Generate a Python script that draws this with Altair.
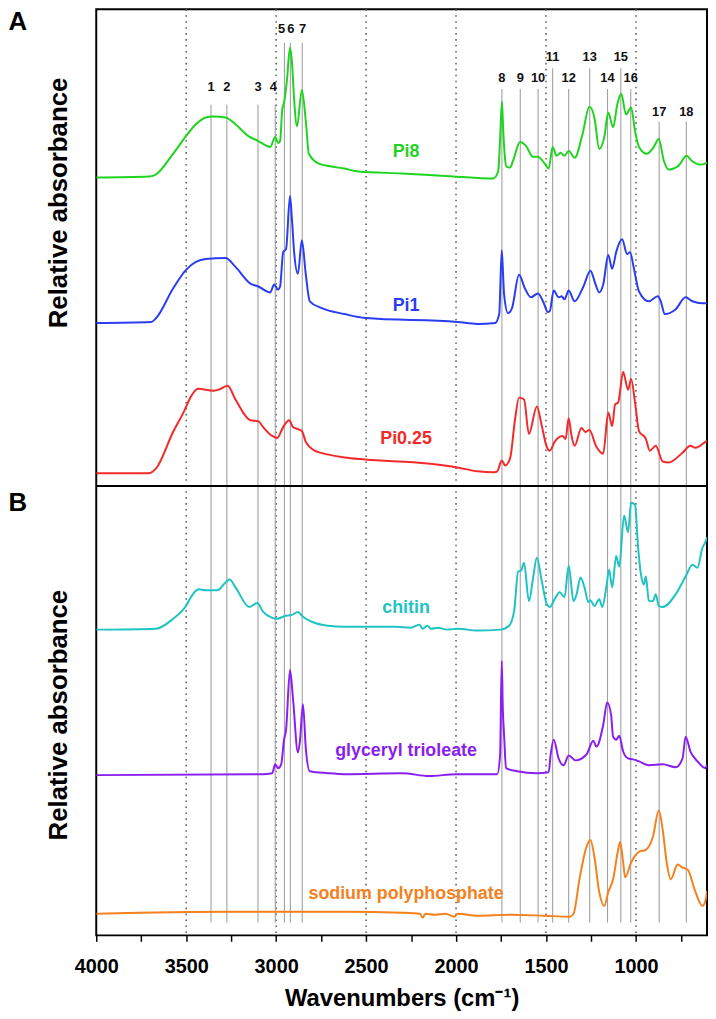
import altair as alt
import pandas as pd

FONT = "Liberation Sans"
W, H = 616, 934
X_DOMAIN = [4000, 605]
Y_DOMAIN = [0, 9.42]

series_names = ["Pi8", "Pi1", "Pi0.25", "chitin", "glyceryl trioleate", "sodium polyphosphate"]
series_colors = ["#1fd41f", "#2a3df2", "#f22a2a", "#1ec3c3", "#8a1ef0", "#f5801e"]

pi8_wn = [4000, 3705, 3678, 3573, 3501, 3446, 3391, 3353, 3281, 3226, 3154, 3099, 3033, 3005, 2989, 2978, 2966, 2955, 2940, 2923, 2912, 2900, 2884, 2857, 2835, 2818, 2763, 2691, 2620, 2543, 2300, 2014, 1793, 1766, 1755, 1745, 1738, 1730, 1720, 1700, 1683, 1644, 1611, 1573, 1545, 1507, 1485, 1463, 1441, 1419, 1397, 1374, 1341, 1297, 1259, 1231, 1204, 1176, 1154, 1127, 1104, 1082, 1055, 1027, 1005, 983, 939, 901, 873, 845, 818, 763, 719, 691, 636, 605]
pi8_abs = [7.71, 7.72, 7.73, 7.95, 8.13, 8.25, 8.32, 8.33, 8.32, 8.25, 8.13, 8.08, 8.02, 8.12, 8.06, 8.08, 8.40, 8.48, 8.70, 9.03, 8.88, 8.50, 8.23, 8.60, 8.28, 7.95, 7.85, 7.82, 7.80, 7.77, 7.75, 7.72, 7.70, 7.77, 8.10, 8.48, 8.20, 7.95, 7.82, 7.81, 7.88, 8.07, 8.03, 7.92, 7.92, 7.85, 7.80, 8.02, 7.93, 7.96, 7.93, 7.98, 7.91, 8.15, 8.43, 8.32, 8.00, 8.12, 8.37, 8.22, 8.45, 8.56, 8.35, 8.42, 8.18, 8.02, 7.95, 8.02, 8.10, 7.88, 7.79, 7.83, 7.93, 7.88, 7.84, 7.86]

pi1_wn = [4000, 3694, 3667, 3573, 3501, 3446, 3391, 3281, 3226, 3143, 3099, 3033, 3011, 2989, 2978, 2961, 2945, 2923, 2912, 2900, 2879, 2857, 2835, 2813, 2746, 2620, 2504, 1992, 1881, 1782, 1760, 1746, 1738, 1733, 1711, 1689, 1650, 1617, 1584, 1545, 1512, 1490, 1479, 1457, 1430, 1413, 1397, 1374, 1341, 1292, 1253, 1226, 1204, 1182, 1154, 1132, 1110, 1077, 1049, 1033, 1011, 983, 928, 879, 862, 840, 779, 724, 686, 631, 605]
pi1_abs = [6.23, 6.24, 6.28, 6.58, 6.77, 6.85, 6.88, 6.89, 6.80, 6.63, 6.60, 6.54, 6.62, 6.57, 6.60, 6.95, 6.98, 7.52, 7.28, 6.95, 6.73, 7.07, 6.72, 6.45, 6.38, 6.32, 6.28, 6.24, 6.22, 6.23, 6.32, 6.97, 6.70, 6.52, 6.33, 6.38, 6.72, 6.58, 6.49, 6.53, 6.43, 6.34, 6.35, 6.56, 6.49, 6.50, 6.47, 6.56, 6.45, 6.60, 6.76, 6.63, 6.54, 6.62, 6.92, 6.78, 6.95, 7.08, 6.93, 6.95, 6.78, 6.55, 6.45, 6.50, 6.45, 6.32, 6.37, 6.49, 6.45, 6.43, 6.43]

pi025_wn = [4000, 3711, 3667, 3573, 3512, 3474, 3435, 3347, 3308, 3270, 3226, 3143, 3099, 3072, 3022, 2994, 2961, 2928, 2906, 2857, 2835, 2785, 2708, 2620, 2504, 2157, 1992, 1881, 1788, 1771, 1746, 1727, 1700, 1672, 1650, 1622, 1595, 1551, 1523, 1496, 1479, 1452, 1408, 1391, 1374, 1358, 1341, 1303, 1281, 1259, 1220, 1182, 1154, 1132, 1116, 1099, 1071, 1044, 1027, 1005, 983, 945, 923, 890, 851, 818, 741, 697, 669, 614, 605]
pi025_abs = [4.70, 4.70, 4.75, 5.12, 5.33, 5.48, 5.56, 5.54, 5.56, 5.59, 5.45, 5.24, 5.23, 5.17, 5.08, 5.06, 5.17, 5.24, 5.17, 5.13, 5.02, 4.93, 4.89, 4.86, 4.84, 4.80, 4.76, 4.72, 4.71, 4.72, 4.83, 4.78, 4.85, 5.25, 5.47, 5.45, 5.10, 5.38, 5.18, 4.97, 4.93, 5.02, 5.08, 5.05, 5.26, 5.08, 4.98, 5.16, 5.12, 5.14, 4.97, 4.90, 5.32, 5.18, 5.40, 5.42, 5.73, 5.55, 5.66, 5.42, 5.13, 5.05, 4.93, 4.98, 4.82, 4.81, 4.91, 4.98, 4.96, 5.02, 5.03]

chitin_wn = [4000, 3667, 3573, 3501, 3474, 3430, 3391, 3325, 3292, 3259, 3226, 3149, 3105, 3072, 3022, 2994, 2950, 2912, 2879, 2851, 2802, 2713, 2620, 2339, 2250, 2205, 2185, 2160, 2140, 2100, 2050, 1990, 1881, 1755, 1705, 1677, 1655, 1639, 1622, 1595, 1573, 1551, 1523, 1496, 1479, 1452, 1424, 1397, 1374, 1347, 1330, 1308, 1286, 1264, 1253, 1231, 1204, 1187, 1165, 1149, 1132, 1110, 1093, 1066, 1044, 1027, 1005, 989, 972, 956, 945, 928, 906, 890, 873, 851, 779, 724, 686, 658, 631, 614, 605]
chitin_abs = [3.11, 3.12, 3.22, 3.35, 3.44, 3.52, 3.51, 3.51, 3.57, 3.62, 3.54, 3.34, 3.38, 3.29, 3.23, 3.22, 3.25, 3.26, 3.29, 3.24, 3.19, 3.15, 3.14, 3.14, 3.13, 3.16, 3.12, 3.15, 3.12, 3.13, 3.11, 3.12, 3.10, 3.11, 3.15, 3.30, 3.70, 3.71, 3.79, 3.40, 3.62, 3.84, 3.60, 3.37, 3.34, 3.42, 3.49, 3.44, 3.76, 3.40, 3.47, 3.64, 3.54, 3.39, 3.41, 3.35, 3.42, 3.34, 3.54, 3.72, 3.54, 3.86, 3.75, 4.27, 4.10, 4.40, 4.38, 3.97, 3.67, 3.57, 3.65, 3.40, 3.40, 3.47, 3.35, 3.34, 3.47, 3.65, 3.77, 3.74, 3.94, 4.00, 4.05]

gto_wn = [4000, 3077, 3022, 3005, 2989, 2972, 2956, 2945, 2923, 2906, 2879, 2868, 2851, 2835, 2813, 2713, 2620, 2300, 2150, 2000, 1771, 1755, 1746, 1740, 1733, 1722, 1661, 1551, 1485, 1474, 1457, 1430, 1402, 1374, 1336, 1275, 1237, 1220, 1182, 1160, 1138, 1127, 1110, 1093, 1071, 1044, 1016, 983, 928, 851, 779, 741, 724, 697, 658, 614, 605]
gto_abs = [1.63, 1.64, 1.65, 1.74, 1.70, 1.74, 1.99, 2.09, 2.70, 2.40, 1.86, 1.97, 2.35, 1.90, 1.67, 1.65, 1.64, 1.65, 1.62, 1.64, 1.64, 1.84, 2.79, 2.30, 2.04, 1.70, 1.67, 1.65, 1.66, 1.84, 1.99, 1.80, 1.73, 1.83, 1.78, 1.84, 1.98, 1.92, 2.14, 2.37, 2.24, 2.02, 1.99, 2.03, 1.87, 1.80, 1.79, 1.77, 1.73, 1.74, 1.71, 1.80, 2.02, 1.87, 1.77, 1.70, 1.74]

polyp_wn = [4000, 3264, 2620, 2300, 2200, 2185, 2170, 2120, 2060, 2010, 1990, 1881, 1700, 1512, 1369, 1347, 1314, 1275, 1253, 1231, 1204, 1176, 1154, 1127, 1099, 1088, 1071, 1060, 1027, 983, 945, 906, 873, 851, 829, 807, 768, 741, 713, 669, 631, 614, 605]
polyp_abs = [0.22, 0.24, 0.24, 0.23, 0.22, 0.18, 0.22, 0.21, 0.22, 0.19, 0.22, 0.20, 0.21, 0.20, 0.19, 0.22, 0.57, 0.90, 0.97, 0.80, 0.44, 0.30, 0.44, 0.57, 0.87, 0.95, 0.74, 0.59, 0.74, 0.85, 0.87, 1.00, 1.27, 1.07, 0.74, 0.57, 0.72, 0.69, 0.67, 0.44, 0.30, 0.35, 0.45]

# band markers
band_labels = [str(i) for i in range(1, 19)]
band_wn = [3362, 3274, 3101, 3005, 2954, 2921, 2855, 1745, 1643, 1544, 1463, 1374, 1257, 1158, 1084, 1029, 871, 720]
band_label_wn = [3362, 3274, 3101, 3016, 2970, 2919, 2853, 1745, 1643, 1544, 1463, 1374, 1257, 1158, 1084, 1029, 871, 720]
band_top = [8.45, 8.45, 8.45, 8.45, 9.08, 9.08, 9.08, 8.61, 8.61, 8.61, 8.82, 8.61, 8.82, 8.61, 8.82, 8.61, 8.28, 8.28]
band_label_y = [8.63, 8.63, 8.63, 8.63, 9.22, 9.22, 9.22, 8.72, 8.72, 8.72, 8.93, 8.72, 8.93, 8.72, 8.93, 8.72, 8.38, 8.38]
band_bottom = 0.13

grid_wn = [3500, 3000, 2500, 2000, 1500, 1000]
tick_values = list(range(4000, 600, -250))

label_wn = [2278] * 6
label_y = [7.97, 6.40, 5.05, 3.33, 1.88, 0.42]

panel_letters = ["A", "B"]
panel_letter_top = [9.42, 4.53]
panel_title_y = [7.45, 2.24]
divider_y = 4.57

all_wn = [pi8_wn, pi1_wn, pi025_wn, chitin_wn, gto_wn, polyp_wn]
all_abs = [pi8_abs, pi1_abs, pi025_abs, chitin_abs, gto_abs, polyp_abs]
rows = []
for name, wns, vals in zip(series_names, all_wn, all_abs):
    for w, v in zip(wns, vals):
        rows.append({"series": name, "wn": w, "v": v})
spectra = pd.DataFrame(rows)

xs = alt.Scale(domain=X_DOMAIN, nice=False, zero=False)
ys = alt.Scale(domain=Y_DOMAIN, nice=False, zero=False)
cs = alt.Scale(domain=series_names, range=series_colors)

x_axis = alt.Axis(
    values=tick_values, format="d",
    labelExpr="datum.value % 500 === 0 ? datum.label : ''",
    title="Wavenumbers (cm⁻¹)", titleFont=FONT, titleFontSize=24, titleFontWeight="bold",
    titleColor="black", titlePadding=11,
    labelFont=FONT, labelFontSize=20, labelFontWeight="bold", labelColor="black",
    labelPadding=15, labelFlush=False, labelOverlap=False,
    tickColor="black", tickWidth=1.5, tickSize=6, domain=False, grid=False,
)


def X(field):
    return alt.X(field, scale=xs, axis=x_axis)


def Y(field):
    return alt.Y(field, scale=ys, axis=None)


grid = alt.Chart(pd.DataFrame({"wn": grid_wn})).mark_rule(
    color="#666666", strokeWidth=1.6, strokeDash=[1.6, 4.4]
).encode(x=X("wn:Q"), y=alt.value(0), y2=alt.value(H))

bands = pd.DataFrame({"lab": band_labels, "wn": band_wn, "lwn": band_label_wn,
                      "top": band_top, "ly": band_label_y, "bot": [band_bottom] * 18})
band_rules = alt.Chart(bands).mark_rule(color="#a0a0a0", strokeWidth=1.1).encode(
    x=X("wn:Q"), y=Y("top:Q"), y2="bot:Q")
band_text = alt.Chart(bands).mark_text(
    font=FONT, fontSize=13, fontWeight="bold", color="#111111", align="center", baseline="middle"
).encode(x=X("lwn:Q"), y=Y("ly:Q"), text="lab:N")

divider = alt.Chart(pd.DataFrame({"d": [divider_y]})).mark_rule(color="black", strokeWidth=2).encode(
    y=Y("d:Q"), x=alt.value(0), x2=alt.value(W))

lines = alt.Chart(spectra).mark_line(strokeWidth=2, interpolate="monotone", clip=True).encode(
    x=X("wn:Q"),
    y=Y("v:Q"),
    color=alt.Color("series:N", scale=cs, legend=None),
    order=alt.Order("wn:Q", sort="descending"),
)

labels = alt.Chart(pd.DataFrame({"series": series_names, "wn": label_wn, "v": label_y})).mark_text(
    font=FONT, fontSize=18, fontWeight="bold", align="center", baseline="middle"
).encode(x=X("wn:Q"), y=Y("v:Q"), text="series:N",
         color=alt.Color("series:N", scale=cs, legend=None))

letters = alt.Chart(pd.DataFrame({"t": panel_letters, "v": panel_letter_top})).mark_text(
    font=FONT, fontSize=26, fontWeight="bold", color="black", align="center", baseline="top"
).encode(x=alt.value(-79), y=Y("v:Q"), text="t:N")

ytitles = alt.Chart(pd.DataFrame({"t": ["Relative absorbance"] * 2, "v": panel_title_y})).mark_text(
    font=FONT, fontSize=26, fontWeight="bold", color="black", align="center", baseline="middle", angle=270
).encode(x=alt.value(-37), y=Y("v:Q"), text="t:N")

chart = alt.layer(grid, band_rules, lines, divider, band_text, labels, letters, ytitles).properties(
    width=W, height=H, padding={"left": 0, "top": -4, "right": 0, "bottom": 0}
).configure_view(stroke="black", strokeWidth=2)

chart.save("out.html", embed_options={"renderer": "svg", "actions": False})
